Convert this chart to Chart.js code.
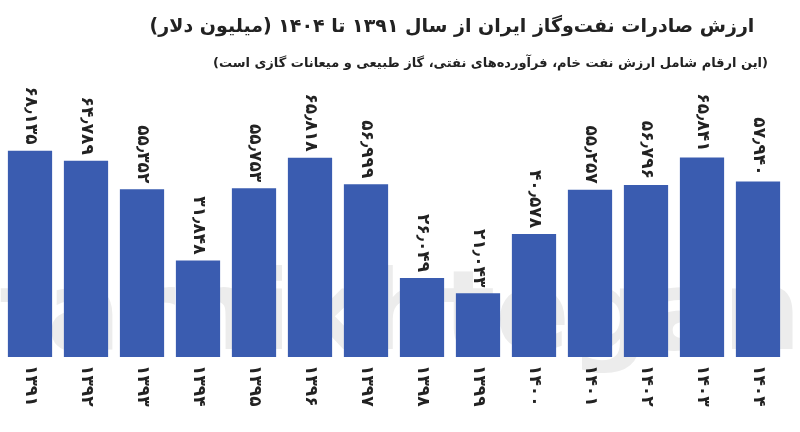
<!DOCTYPE html>
<html lang="fa">
<head>
<meta charset="UTF-8" />
<script src="https://cdn.jsdelivr.net/npm/chart.js"></script>
<style>
  body { margin: 0; background: #fff; }
  #wrap { width: 800px; height: 432px; position: relative; }
</style>
</head>
<body>
<div id="wrap"><canvas id="c" width="800" height="432"></canvas></div>
<script>
const years = ['۱۳۹۱','۱۳۹۲','۱۳۹۳','۱۳۹۴','۱۳۹۵','۱۳۹۶','۱۳۹۷','۱۳۹۸','۱۳۹۹','۱۴۰۰','۱۴۰۱','۱۴۰۲','۱۴۰۳','۱۴۰۴'];
const values = [68.135, 64.789, 55.352, 31.848, 55.753, 65.818, 56.999, 26.049, 21.043, 40.578, 55.257, 56.796, 65.841, 57.940];
const valueLabels = ['۶۸٫۱۳۵','۶۴٫۷۸۹','۵۵٫۳۵۲','۳۱٫۸۴۸','۵۵٫۷۵۳','۶۵٫۸۱۸','۵۶٫۹۹۹','۲۶٫۰۴۹','۲۱٫۰۴۳','۴۰٫۵۷۸','۵۵٫۲۵۷','۵۶٫۷۹۶','۶۵٫۸۴۱','۵۷٫۹۴۰'];
const title = 'ارزش صادرات نفت‌وگاز ایران از سال ۱۳۹۱ تا ۱۴۰۴ (میلیون دلار)';
const subtitle = '(این ارقام شامل ارزش نفت خام، فرآورده‌های نفتی، گاز طبیعی و میعانات گازی است)';

// watermark, header and rotated labels
const decor = {
  id: 'decor',
  beforeDatasetsDraw(chart) {
    const ctx = chart.ctx;
    ctx.save();
    ctx.fillStyle = '#ececec';
    ctx.font = 'bold 110px "DejaVu Sans"';
    ctx.textAlign = 'center';
    ctx.textBaseline = 'middle';
    ctx.fillText('farhikhtegan', 400, 320);
    ctx.restore();
  },
  afterDatasetsDraw(chart) {
    const ctx = chart.ctx;
    const meta = chart.getDatasetMeta(0);
    ctx.save();
    ctx.fillStyle = '#222';
    ctx.textAlign = 'center';
    ctx.direction = 'rtl';
    ctx.font = 'bold 19px "DejaVu Sans"';
    ctx.fillText(title, 452, 32);
    ctx.font = 'bold 13px "DejaVu Sans"';
    ctx.textAlign = 'right';
    ctx.fillText(subtitle, 768, 67);
    ctx.direction = 'ltr';
    meta.data.forEach((bar, i) => {
      ctx.font = 'bold 17px "DejaVu Sans"';
      ctx.save();
      ctx.translate(bar.x, bar.y - 6);
      ctx.rotate(Math.PI / 2);
      ctx.textAlign = 'right';
      ctx.textBaseline = 'middle';
      ctx.fillText(valueLabels[i], 0, 0);
      ctx.restore();
      ctx.save();
      ctx.translate(bar.x, bar.base + 8);
      ctx.rotate(Math.PI / 2);
      ctx.textAlign = 'left';
      ctx.textBaseline = 'middle';
      ctx.fillText(years[i], 0, 0);
      ctx.restore();
    });
    ctx.restore();
  }
};

new Chart('c', {
  type: 'bar',
  data: {
    labels: years,
    datasets: [{ data: values, backgroundColor: '#3a5cb0', barPercentage: 0.79, categoryPercentage: 1 }]
  },
  options: {
    responsive: false,
    animation: false,
    layout: { padding: { left: 2, right: 14, top: 145, bottom: 75 } },
    plugins: { legend: { display: false }, tooltip: { enabled: false } },
    scales: {
      x: { display: false },
      y: { display: false, min: 0, max: 70 }
    }
  },
  plugins: [decor]
});
</script>
</body>
</html>
